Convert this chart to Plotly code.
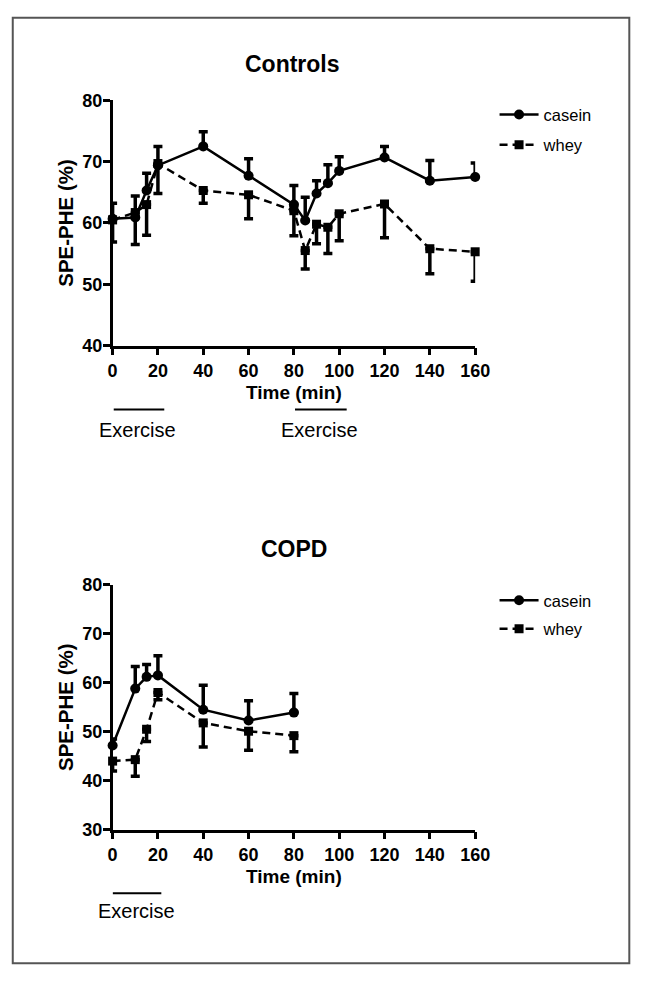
import plotly.graph_objects as go

# ---------------- data ----------------
time_ctrl = [0, 10, 15, 20, 40, 60, 80, 85, 90, 95, 100, 120, 140, 160]
casein_ctrl = [60.7, 60.9, 65.3, 69.4, 72.5, 67.7, 63.0, 60.4, 64.8, 66.5, 68.5, 70.7, 66.9, 67.5]
casein_ctrl_sem = [2.5, 3.5, 2.8, 3.1, 2.4, 2.8, 3.1, 3.8, 2.1, 3.0, 2.3, 1.8, 3.3, 2.3]
whey_ctrl = [60.5, 61.7, 63.0, 69.7, 65.3, 64.6, 62.0, 55.5, 59.8, 59.3, 61.5, 63.1, 55.8, 55.3]
whey_ctrl_sem = [3.6, 5.2, 5.0, 4.9, 2.1, 3.9, 4.1, 3.0, 3.2, 4.3, 4.4, 5.5, 4.1, 4.8]

time_copd = [0, 10, 15, 20, 40, 60, 80]
casein_copd = [47.2, 58.8, 61.2, 61.5, 54.5, 52.3, 53.9]
casein_copd_sem = [1.3, 4.5, 2.5, 4.0, 5.0, 4.0, 3.9]
whey_copd = [44.0, 44.3, 50.5, 58.0, 51.8, 50.1, 49.2]
whey_copd_sem = [2.0, 3.4, 2.5, 1.5, 4.9, 3.9, 3.3]

x_ticks = [0, 20, 40, 60, 80, 100, 120, 140, 160]
y_ticks_ctrl = [40, 50, 60, 70, 80]
y_ticks_copd = [30, 40, 50, 60, 70, 80]

exercise_ctrl = [(0.5, 22.8), (80.5, 103.3)]
exercise_copd = [(0.0, 21.5)]

# ---------------- figure ----------------
W, H = 654, 983
FONT = "Liberation Sans, Arial, sans-serif"


def px(x):
    return x / W


def py(y):
    return 1 - y / H


fig = go.Figure()

zeros_ctrl = [0] * len(time_ctrl)
zeros_copd = [0] * len(time_copd)


def add_pair(t, c, cs, w, ws, xa, ya, legend, zeros):
    fig.add_trace(go.Scatter(
        x=t, y=c, name="casein", mode="lines+markers",
        xaxis=xa, yaxis=ya, legend=legend, legendgroup=legend + "c",
        line=dict(color="black", width=2.5),
        marker=dict(symbol="circle", size=10, color="black"),
        error_y=dict(type="data", symmetric=False, array=cs, arrayminus=zeros,
                     color="black", thickness=3.5, width=4.5),
        cliponaxis=False,
    ))
    fig.add_trace(go.Scatter(
        x=t, y=w, name="whey", mode="lines+markers",
        xaxis=xa, yaxis=ya, legend=legend, legendgroup=legend + "w",
        line=dict(color="black", width=2.5, dash="8px,5px"),
        marker=dict(symbol="square", size=9, color="black"),
        error_y=dict(type="data", symmetric=False, array=zeros, arrayminus=ws,
                     color="black", thickness=3.5, width=4.5),
        cliponaxis=False,
    ))


add_pair(time_ctrl, casein_ctrl, casein_ctrl_sem, whey_ctrl, whey_ctrl_sem,
         "x", "y", "legend", zeros_ctrl)
add_pair(time_copd, casein_copd, casein_copd_sem, whey_copd, whey_copd_sem,
         "x2", "y2", "legend2", zeros_copd)

xdom = [px(111), px(485)]
tickfont = dict(family=FONT, size=18, color="black", weight="bold")
xtitlefont = dict(family=FONT, size=19, color="black", weight="bold")
ytitlefont = dict(family=FONT, size=20.5, color="black", weight="bold")

axis_common = dict(
    showgrid=False, zeroline=False, showline=True, linecolor="black", linewidth=2.5,
    ticks="outside", ticklen=7, tickwidth=2.5, tickcolor="black", tickfont=tickfont,
)

legend_font = dict(family=FONT, size=16.5, color="black")

fig.update_layout(
    width=W, height=H,
    margin=dict(l=0, r=0, t=0, b=0),
    paper_bgcolor="white", plot_bgcolor="white",
    showlegend=True,
    xaxis=dict(domain=xdom, range=[0, 160], tickvals=x_ticks, anchor="y",
               title=dict(text="Time (min)", font=xtitlefont, standoff=6), **axis_common),
    yaxis=dict(domain=[py(342.5), py(92.3)], range=[40, 80], tickvals=y_ticks_ctrl, anchor="x",
               ticklabelstandoff=-3,
               title=dict(text="SPE-PHE (%)", font=ytitlefont, standoff=4), **axis_common),
    xaxis2=dict(domain=xdom, range=[0, 160], tickvals=x_ticks, anchor="y2",
                title=dict(text="Time (min)", font=xtitlefont, standoff=6), **axis_common),
    yaxis2=dict(domain=[py(836.7), py(586.7)], range=[30, 80], tickvals=y_ticks_copd, anchor="x2",
                ticklabelstandoff=-3,
                title=dict(text="SPE-PHE (%)", font=ytitlefont, standoff=4), **axis_common),
    legend=dict(x=px(505), y=py(89), xanchor="left", yanchor="top", font=legend_font,
                itemwidth=39, traceorder="grouped", tracegroupgap=6, bgcolor="rgba(0,0,0,0)"),
    legend2=dict(x=px(505), y=py(585), xanchor="left", yanchor="top", font=legend_font,
                 itemwidth=39, traceorder="grouped", tracegroupgap=4, bgcolor="rgba(0,0,0,0)"),
)

annotations = [
    dict(text="<b>Controls</b>", x=px(297), y=py(55), xref="paper", yref="paper",
         showarrow=False, font=dict(family=FONT, size=23, color="black"),
         xanchor="center", yanchor="middle"),
    dict(text="<b>COPD</b>", x=px(298), y=py(550), xref="paper", yref="paper",
         showarrow=False, font=dict(family=FONT, size=23, color="black"),
         xanchor="center", yanchor="middle"),
]
shapes = [
    dict(type="rect", xref="paper", yref="paper", x0=px(8), x1=px(644), y0=py(973), y1=py(8),
         line=dict(color="#555", width=2), fillcolor="rgba(0,0,0,0)"),
]

for (a, b) in exercise_ctrl:
    shapes.append(dict(type="line", xref="x", yref="paper", x0=a, x1=b, y0=py(407.7), y1=py(407.7),
                       line=dict(color="black", width=2)))
    annotations.append(dict(text="Exercise", x=(a + b) / 2 - 0.6, y=py(429), xref="x", yref="paper",
                            showarrow=False, font=dict(family=FONT, size=20, color="black"),
                            xanchor="center", yanchor="middle"))
for (a, b) in exercise_copd:
    shapes.append(dict(type="line", xref="x2", yref="paper", x0=a, x1=b, y0=py(901.7), y1=py(901.7),
                       line=dict(color="black", width=2)))
    annotations.append(dict(text="Exercise", x=(a + b) / 2, y=py(920), xref="x2", yref="paper",
                            showarrow=False, font=dict(family=FONT, size=20, color="black"),
                            xanchor="center", yanchor="middle"))

fig.update_layout(annotations=annotations, shapes=shapes)

fig.write_html("out.html", config={"displayModeBar": False},
               post_script="document.body.style.margin='0';document.documentElement.style.overflow='hidden';")
